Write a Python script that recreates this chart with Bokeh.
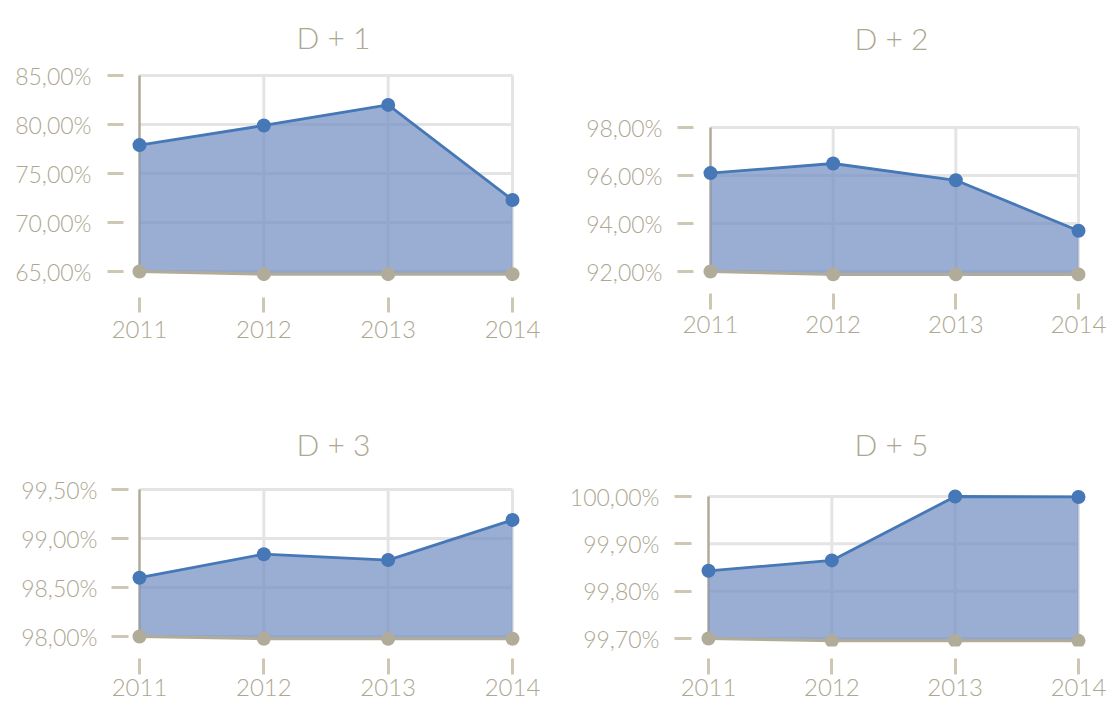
from bokeh.plotting import figure
from bokeh.layouts import column, row
from bokeh.models import FixedTicker, Range1d
from bokeh.core.properties import value
from bokeh.embed import file_html
from bokeh.resources import INLINE

# ---- data -------------------------------------------------------------
years = [2011, 2012, 2013, 2014]
year_labels = ["2011", "2012", "2013", "2014"]

titles = ["D + 1", "D + 2", "D + 3", "D + 5"]

d1_values = [77.9, 79.9, 82.0, 72.3]
d1_floor = [65.0, 64.73, 64.73, 64.73]
d1_ticks = [65, 70, 75, 80, 85]
d1_tick_labels = ["65,00%", "70,00%", "75,00%", "80,00%", "85,00%"]

d2_values = [96.1, 96.5, 95.8, 93.7]
d2_floor = [92.0, 91.88, 91.88, 91.88]
d2_ticks = [92, 94, 96, 98]
d2_tick_labels = ["92,00%", "94,00%", "96,00%", "98,00%"]

d3_values = [98.6, 98.84, 98.78, 99.19]
d3_floor = [98.0, 97.977, 97.977, 97.977]
d3_ticks = [98.0, 98.5, 99.0, 99.5]
d3_tick_labels = ["98,00%", "98,50%", "99,00%", "99,50%"]

d5_values = [99.843, 99.865, 100.0, 99.999]
d5_floor = [99.70, 99.695, 99.695, 99.695]
d5_ticks = [99.7, 99.8, 99.9, 100.0]
d5_tick_labels = ["99,70%", "99,80%", "99,90%", "100,00%"]

# ---- styling ----------------------------------------------------------
FONT = "'Lato Light', Lato"
TEXT = "#aca792"
TICK = "#cdc7b4"
AXIS = "#b0aa96"
GRID = "#e4e4e4"
BLUE = "#4677b6"
AREA = "#7893c6"
FLOOR = "#b1ac99"

# Pixel layout of each panel inside its own figure:
#   size   figure width/height
#   frame  plot frame (left, right, top, bottom); shared along rows/columns
#   x      pixel of the first/last year,  y  pixel of the top/bottom tick
#   ytick  inner/outer end of the value tick dashes, ylab right edge of labels
#   xtick  inner/outer end of the year tick dashes, xstand label standoff
#   title  centre x and baseline y of the heading
geo = [
    dict(size=(555, 380), frame=(129, 522, 0, 281), x=(139, 512), y=(75, 271),
         ytick=(123, 107), ylab=91, xtick=(297, 312), xstand=8, title=(333, 36)),
    dict(size=(554, 380), frame=(142, 533, 0, 281), x=(155, 523), y=(127, 271),
         ytick=(138, 122), ylab=107, xtick=(293, 309), xstand=6, title=(336, 37)),
    dict(size=(555, 325), frame=(129, 522, 0, 266), x=(139, 512), y=(109, 256),
         ytick=(128, 111), ylab=97, xtick=(278, 294), xstand=4, title=(333, 63)),
    dict(size=(554, 325), frame=(142, 533, 0, 266), x=(153, 523), y=(116, 258),
         ytick=(136, 119), ylab=104, xtick=(278, 294), xstand=4, title=(336, 63)),
]


def panel(title, values, floor, ticks, tick_labels, g):
    W, H = g["size"]
    fl, fr, ft, fb = g["frame"]
    xa, xb = g["x"]
    yt, yb = g["y"]
    ppx = (xb - xa) / (years[-1] - years[0])
    ppy = (yb - yt) / (ticks[-1] - ticks[0])

    p = figure(
        width=W, height=H,
        x_range=Range1d(years[0] - (xa - fl) / ppx, years[-1] + (fr - xb) / ppx),
        y_range=Range1d(ticks[0] - (fb - yb) / ppy, ticks[-1] + (yt - ft) / ppy),
        min_border_left=fl, min_border_right=W - fr,
        min_border_top=ft, min_border_bottom=H - fb,
        toolbar_location=None, output_backend="svg",
        outline_line_color=None,
    )
    p.grid.visible = False

    # value axis: detached dashes to the left of the plot
    ya = p.yaxis[0]
    ya.ticker = FixedTicker(ticks=ticks)
    ya.major_label_overrides = {t: s for t, s in zip(ticks, tick_labels)}
    ya.axis_line_color = None
    ya.minor_tick_line_color = None
    ya.major_tick_line_color = TICK
    ya.major_tick_line_width = 3
    ya.major_tick_in = -(fl - g["ytick"][0])
    ya.major_tick_out = fl - g["ytick"][1]
    ya.major_label_standoff = g["ytick"][1] - g["ylab"]
    ya.major_label_text_font = FONT
    ya.major_label_text_font_size = "23px"
    ya.major_label_text_color = TEXT

    # year axis: detached dashes below the plot
    xa_ = p.xaxis[0]
    xa_.ticker = FixedTicker(ticks=years)
    xa_.major_label_overrides = {y: s for y, s in zip(years, year_labels)}
    xa_.axis_line_color = None
    xa_.minor_tick_line_color = None
    xa_.major_tick_line_color = TICK
    xa_.major_tick_line_width = 3
    xa_.major_tick_in = -(g["xtick"][0] - fb)
    xa_.major_tick_out = g["xtick"][1] - fb
    xa_.major_label_standoff = g["xstand"]
    xa_.major_label_text_font = FONT
    xa_.major_label_text_font_size = "24px"
    xa_.major_label_text_color = TEXT

    # heading
    tx, ty = g["title"]
    p.text(x=[years[0] + (tx - xa) / ppx], y=[ticks[-1] + (yt - ty) / ppy],
           text=[title], text_align="center", text_baseline="alphabetic",
           text_font=value(FONT), text_font_size="30px", text_color=TEXT)

    n = len(ticks)
    m = len(years) - 1
    # grid, bounded to the data area
    p.segment(x0=[years[0]] * n, y0=ticks, x1=[years[-1]] * n, y1=ticks,
              line_color=GRID, line_width=3)
    p.segment(x0=years[1:], y0=[ticks[0]] * m, x1=years[1:], y1=[ticks[-1]] * m,
              line_color=GRID, line_width=3)
    # value axis line
    p.segment(x0=[years[0]], y0=[ticks[0]], x1=[years[0]], y1=[ticks[-1]],
              line_color=AXIS, line_width=2.5)

    # filled band between the floor series and the value series
    p.varea(x=years, y1=floor, y2=values, fill_color=AREA, fill_alpha=0.75)
    p.line(years, floor, line_color=FLOOR, line_width=3)
    p.line(years, values, line_color=BLUE, line_width=2.8)
    p.scatter(years, floor, size=14, fill_color=FLOOR, line_color=None)
    p.scatter(years, values, size=14, fill_color=BLUE, line_color=None)
    return p


p1 = panel(titles[0], d1_values, d1_floor, d1_ticks, d1_tick_labels, geo[0])
p2 = panel(titles[1], d2_values, d2_floor, d2_ticks, d2_tick_labels, geo[1])
p3 = panel(titles[2], d3_values, d3_floor, d3_ticks, d3_tick_labels, geo[2])
p4 = panel(titles[3], d5_values, d5_floor, d5_ticks, d5_tick_labels, geo[3])

layout = column(row(p1, p2), row(p3, p4))

open("out.html", "w").write(file_html(layout, INLINE))
